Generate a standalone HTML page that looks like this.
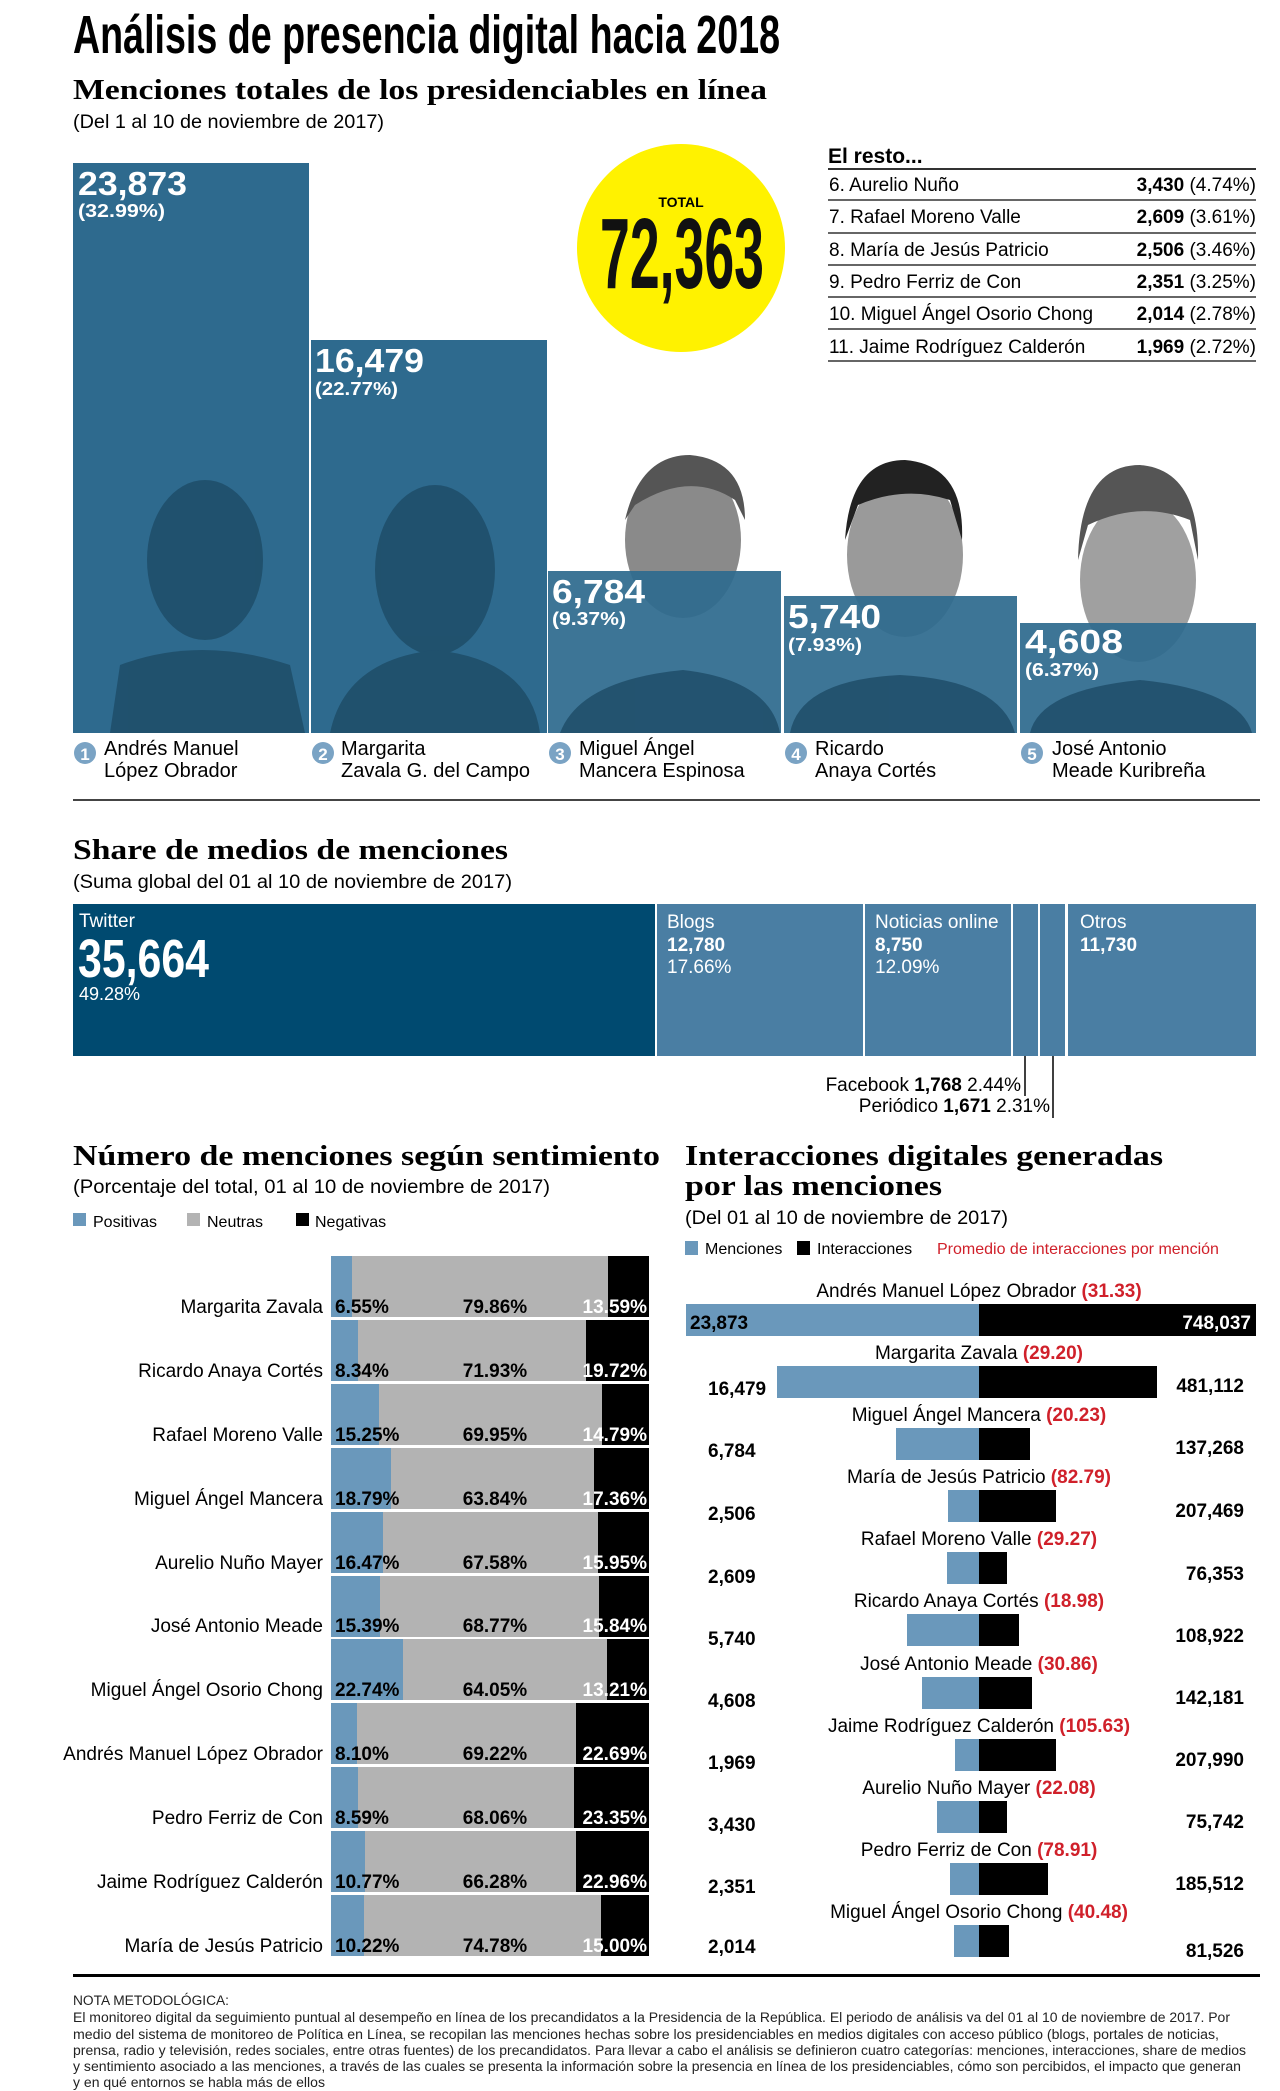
<!DOCTYPE html>
<html><head><meta charset="utf-8"><style>
html,body{margin:0;padding:0;background:#fff}
svg{display:block}
text{font-family:"Liberation Sans Narrow","Liberation Sans",sans-serif}
.s{font-family:"Liberation Serif",serif;font-weight:bold}
.b{font-weight:bold}
</style></head><body>
<svg width="1280" height="2091" viewBox="0 0 1280 2091" xmlns="http://www.w3.org/2000/svg">
<text x="73" y="53" font-size="54" class="b" textLength="707" lengthAdjust="spacingAndGlyphs">Análisis de presencia digital hacia 2018</text>
<text x="73" y="99" font-size="29" class="s" textLength="694" lengthAdjust="spacingAndGlyphs">Menciones totales de los presidenciables en línea</text>
<text x="73" y="128" font-size="19" textLength="311" lengthAdjust="spacingAndGlyphs">(Del 1 al 10 de noviembre de 2017)</text>

<g>
<ellipse cx="683" cy="540" rx="58" ry="78" fill="#8a8a8a"/>
<path d="M625 520 Q640 455 690 455 Q745 460 745 520 L735 500 Q690 470 635 505 Z" fill="#555"/>
<ellipse cx="905" cy="555" rx="58" ry="82" fill="#9a9a9a"/>
<path d="M845 540 Q850 460 905 460 Q965 465 962 540 L950 500 Q905 485 858 505 Z" fill="#222"/>
<ellipse cx="1138" cy="580" rx="58" ry="82" fill="#a0a0a0"/>
<path d="M1078 560 Q1080 465 1140 465 Q1200 470 1198 560 L1190 520 Q1140 500 1088 525 Z" fill="#555"/>
</g>
<g fill="#2e6a8e">
<rect x="73" y="163" width="236" height="570"/>
<rect x="311" y="340" width="236" height="393"/>
<rect x="548" y="571" width="233" height="162" opacity="0.93"/>
<rect x="784" y="596" width="233" height="137" opacity="0.93"/>
<rect x="1020" y="623" width="236" height="110" opacity="0.93"/>
</g>
<g fill="#1d4b66" opacity="0.8">
<ellipse cx="205" cy="560" rx="58" ry="80"/>
<path d="M110 733 L120 665 Q200 635 290 665 L305 733 Z"/>
<ellipse cx="435" cy="570" rx="60" ry="85"/>
<path d="M330 733 Q345 660 435 650 Q530 660 540 733 Z"/>
<path d="M560 733 Q580 680 683 670 Q770 680 780 733 Z"/>
<path d="M790 733 Q800 680 900 675 Q1000 680 1015 733 Z"/>
<path d="M1030 733 Q1040 690 1140 680 Q1240 690 1252 733 Z"/>
</g>
<g fill="#fff">
<text x="78" y="195" font-size="33" class="b" textLength="109" lengthAdjust="spacingAndGlyphs">23,873</text>
<text x="78" y="217" font-size="18" class="b" textLength="87" lengthAdjust="spacingAndGlyphs">(32.99%)</text>
<text x="315" y="372" font-size="33" class="b" textLength="109" lengthAdjust="spacingAndGlyphs">16,479</text>
<text x="315" y="395" font-size="18" class="b" textLength="83" lengthAdjust="spacingAndGlyphs">(22.77%)</text>
<text x="552" y="603" font-size="33" class="b" textLength="93" lengthAdjust="spacingAndGlyphs">6,784</text>
<text x="552" y="625" font-size="18" class="b" textLength="74" lengthAdjust="spacingAndGlyphs">(9.37%)</text>
<text x="788" y="628" font-size="33" class="b" textLength="93" lengthAdjust="spacingAndGlyphs">5,740</text>
<text x="788" y="651" font-size="18" class="b" textLength="74" lengthAdjust="spacingAndGlyphs">(7.93%)</text>
<text x="1025" y="653" font-size="33" class="b" textLength="98" lengthAdjust="spacingAndGlyphs">4,608</text>
<text x="1025" y="676" font-size="18" class="b" textLength="74" lengthAdjust="spacingAndGlyphs">(6.37%)</text>
</g>
<g font-size="20">
<circle cx="85" cy="753" r="11" fill="#7aa3c4"/><text x="85" y="760" fill="#fff" font-size="17" class="b" text-anchor="middle">1</text>
<text x="104" y="755">Andrés Manuel</text><text x="104" y="777">López Obrador</text>
<circle cx="323" cy="753" r="11" fill="#7aa3c4"/><text x="323" y="760" fill="#fff" font-size="17" class="b" text-anchor="middle">2</text>
<text x="341" y="755">Margarita</text><text x="341" y="777">Zavala G. del Campo</text>
<circle cx="560" cy="753" r="11" fill="#7aa3c4"/><text x="560" y="760" fill="#fff" font-size="17" class="b" text-anchor="middle">3</text>
<text x="579" y="755">Miguel Ángel</text><text x="579" y="777">Mancera Espinosa</text>
<circle cx="796" cy="753" r="11" fill="#7aa3c4"/><text x="796" y="760" fill="#fff" font-size="17" class="b" text-anchor="middle">4</text>
<text x="815" y="755">Ricardo</text><text x="815" y="777">Anaya Cortés</text>
<circle cx="1032" cy="753" r="11" fill="#7aa3c4"/><text x="1032" y="760" fill="#fff" font-size="17" class="b" text-anchor="middle">5</text>
<text x="1052" y="755">José Antonio</text><text x="1052" y="777">Meade Kuribreña</text>
</g>
<circle cx="681" cy="248" r="104" fill="#fff200"/>
<text x="681" y="207" font-size="14" class="b" text-anchor="middle">TOTAL</text>
<text x="600" y="288" font-size="100" class="b" textLength="164" lengthAdjust="spacingAndGlyphs" fill="#111">72,363</text>
<text x="828" y="163" font-size="21" class="b">El resto...</text>
<g stroke="#333" stroke-width="1.5">
<line x1="828" y1="169" x2="1256" y2="169" stroke-width="2"/>
<line x1="828" y1="200" x2="1256" y2="200"/><line x1="828" y1="233" x2="1256" y2="233"/>
<line x1="828" y1="265" x2="1256" y2="265"/><line x1="828" y1="297" x2="1256" y2="297"/>
<line x1="828" y1="329" x2="1256" y2="329"/><line x1="828" y1="361" x2="1256" y2="361"/>
</g>
<g font-size="19">
<text x="829" y="191">6. Aurelio Nuño</text><text x="1256" y="191" text-anchor="end"><tspan class="b">3,430</tspan> (4.74%)</text>
<text x="829" y="223">7. Rafael Moreno Valle</text><text x="1256" y="223" text-anchor="end"><tspan class="b">2,609</tspan> (3.61%)</text>
<text x="829" y="256">8. María de Jesús Patricio</text><text x="1256" y="256" text-anchor="end"><tspan class="b">2,506</tspan> (3.46%)</text>
<text x="829" y="288">9. Pedro Ferriz de Con</text><text x="1256" y="288" text-anchor="end"><tspan class="b">2,351</tspan> (3.25%)</text>
<text x="829" y="320">10. Miguel Ángel Osorio Chong</text><text x="1256" y="320" text-anchor="end"><tspan class="b">2,014</tspan> (2.78%)</text>
<text x="829" y="353">11. Jaime Rodríguez Calderón</text><text x="1256" y="353" text-anchor="end"><tspan class="b">1,969</tspan> (2.72%)</text>
</g>
<line x1="73" y1="800" x2="1260" y2="800" stroke="#444" stroke-width="2"/>

<text x="73" y="859" font-size="28" class="s" textLength="435" lengthAdjust="spacingAndGlyphs">Share de medios de menciones</text>
<text x="73" y="888" font-size="19" textLength="439" lengthAdjust="spacingAndGlyphs">(Suma global del 01 al 10 de noviembre de 2017)</text>
<rect x="73" y="904" width="582" height="152" fill="#004a70"/>
<g fill="#4a7ea3">
<rect x="657" y="904" width="206" height="152"/>
<rect x="865" y="904" width="146" height="152"/>
<rect x="1013" y="904" width="25" height="152"/>
<rect x="1040" y="904" width="25" height="152"/>
<rect x="1068" y="904" width="188" height="152"/>
</g>
<g fill="#fff">
<text x="79" y="927" font-size="19">Twitter</text>
<text x="78" y="977" font-size="54" class="b" textLength="131" lengthAdjust="spacingAndGlyphs">35,664</text>
<text x="79" y="1000" font-size="18">49.28%</text>
<text x="667" y="928" font-size="19">Blogs</text>
<text x="667" y="951" font-size="19" class="b">12,780</text>
<text x="667" y="973" font-size="19">17.66%</text>
<text x="875" y="928" font-size="19">Noticias online</text>
<text x="875" y="951" font-size="19" class="b">8,750</text>
<text x="875" y="973" font-size="19">12.09%</text>
<text x="1080" y="928" font-size="19">Otros</text>
<text x="1080" y="951" font-size="19" class="b">11,730</text>
</g>
<g stroke="#000" stroke-width="1.5"><line x1="1025" y1="1056" x2="1025" y2="1096"/><line x1="1053" y1="1056" x2="1053" y2="1118"/></g>
<text x="1021" y="1091" font-size="19" text-anchor="end">Facebook <tspan class="b">1,768</tspan>  2.44%</text>
<text x="1050" y="1112" font-size="19" text-anchor="end">Periódico <tspan class="b">1,671</tspan> 2.31%</text>

<text x="73" y="1165" font-size="28" class="s" textLength="587" lengthAdjust="spacingAndGlyphs">Número de menciones según sentimiento</text>
<text x="73" y="1193" font-size="19" textLength="477" lengthAdjust="spacingAndGlyphs">(Porcentaje del total, 01 al 10 de noviembre de 2017)</text>
<g font-size="16">
<rect x="73" y="1213" width="13" height="13" fill="#6a98bb"/><text x="93" y="1227">Positivas</text>
<rect x="187" y="1213" width="13" height="13" fill="#b3b3b3"/><text x="207" y="1227">Neutras</text>
<rect x="296" y="1213" width="13" height="13" fill="#000"/><text x="315" y="1227">Negativas</text>
</g>
<g font-size="19">
<g><rect x="331" y="1256" width="318" height="61" fill="#b3b3b3"/><rect x="331" y="1256" width="21" height="61" fill="#6a98bb"/><rect x="608" y="1256" width="41" height="61"/>
<text x="323" y="1313" text-anchor="end">Margarita Zavala</text><text x="335" y="1313" class="b">6.55%</text><text x="495" y="1313" class="b" text-anchor="middle">79.86%</text><text x="647" y="1313" class="b" text-anchor="end" fill="#fff">13.59%</text></g>
<g><rect x="331" y="1320" width="318" height="61" fill="#b3b3b3"/><rect x="331" y="1320" width="27" height="61" fill="#6a98bb"/><rect x="586" y="1320" width="63" height="61"/>
<text x="323" y="1377" text-anchor="end">Ricardo Anaya Cortés</text><text x="335" y="1377" class="b">8.34%</text><text x="495" y="1377" class="b" text-anchor="middle">71.93%</text><text x="647" y="1377" class="b" text-anchor="end" fill="#fff">19.72%</text></g>
<g><rect x="331" y="1384" width="318" height="61" fill="#b3b3b3"/><rect x="331" y="1384" width="48" height="61" fill="#6a98bb"/><rect x="602" y="1384" width="47" height="61"/>
<text x="323" y="1441" text-anchor="end">Rafael Moreno Valle</text><text x="335" y="1441" class="b">15.25%</text><text x="495" y="1441" class="b" text-anchor="middle">69.95%</text><text x="647" y="1441" class="b" text-anchor="end" fill="#fff">14.79%</text></g>
<g><rect x="331" y="1448" width="318" height="61" fill="#b3b3b3"/><rect x="331" y="1448" width="60" height="61" fill="#6a98bb"/><rect x="594" y="1448" width="55" height="61"/>
<text x="323" y="1505" text-anchor="end">Miguel Ángel Mancera</text><text x="335" y="1505" class="b">18.79%</text><text x="495" y="1505" class="b" text-anchor="middle">63.84%</text><text x="647" y="1505" class="b" text-anchor="end" fill="#fff">17.36%</text></g>
<g><rect x="331" y="1512" width="318" height="61" fill="#b3b3b3"/><rect x="331" y="1512" width="52" height="61" fill="#6a98bb"/><rect x="598" y="1512" width="51" height="61"/>
<text x="323" y="1569" text-anchor="end">Aurelio Nuño Mayer</text><text x="335" y="1569" class="b">16.47%</text><text x="495" y="1569" class="b" text-anchor="middle">67.58%</text><text x="647" y="1569" class="b" text-anchor="end" fill="#fff">15.95%</text></g>
<g><rect x="331" y="1576" width="318" height="61" fill="#b3b3b3"/><rect x="331" y="1576" width="49" height="61" fill="#6a98bb"/><rect x="599" y="1576" width="50" height="61"/>
<text x="323" y="1632" text-anchor="end">José Antonio Meade</text><text x="335" y="1632" class="b">15.39%</text><text x="495" y="1632" class="b" text-anchor="middle">68.77%</text><text x="647" y="1632" class="b" text-anchor="end" fill="#fff">15.84%</text></g>
<g><rect x="331" y="1639" width="318" height="61" fill="#b3b3b3"/><rect x="331" y="1639" width="72" height="61" fill="#6a98bb"/><rect x="607" y="1639" width="42" height="61"/>
<text x="323" y="1696" text-anchor="end">Miguel Ángel Osorio Chong</text><text x="335" y="1696" class="b">22.74%</text><text x="495" y="1696" class="b" text-anchor="middle">64.05%</text><text x="647" y="1696" class="b" text-anchor="end" fill="#fff">13.21%</text></g>
<g><rect x="331" y="1703" width="318" height="61" fill="#b3b3b3"/><rect x="331" y="1703" width="26" height="61" fill="#6a98bb"/><rect x="576" y="1703" width="73" height="61"/>
<text x="323" y="1760" text-anchor="end">Andrés Manuel López Obrador</text><text x="335" y="1760" class="b">8.10%</text><text x="495" y="1760" class="b" text-anchor="middle">69.22%</text><text x="647" y="1760" class="b" text-anchor="end" fill="#fff">22.69%</text></g>
<g><rect x="331" y="1767" width="318" height="61" fill="#b3b3b3"/><rect x="331" y="1767" width="27" height="61" fill="#6a98bb"/><rect x="574" y="1767" width="75" height="61"/>
<text x="323" y="1824" text-anchor="end">Pedro Ferriz de Con</text><text x="335" y="1824" class="b">8.59%</text><text x="495" y="1824" class="b" text-anchor="middle">68.06%</text><text x="647" y="1824" class="b" text-anchor="end" fill="#fff">23.35%</text></g>
<g><rect x="331" y="1831" width="318" height="61" fill="#b3b3b3"/><rect x="331" y="1831" width="34" height="61" fill="#6a98bb"/><rect x="576" y="1831" width="73" height="61"/>
<text x="323" y="1888" text-anchor="end">Jaime Rodríguez Calderón</text><text x="335" y="1888" class="b">10.77%</text><text x="495" y="1888" class="b" text-anchor="middle">66.28%</text><text x="647" y="1888" class="b" text-anchor="end" fill="#fff">22.96%</text></g>
<g><rect x="331" y="1895" width="318" height="61" fill="#b3b3b3"/><rect x="331" y="1895" width="33" height="61" fill="#6a98bb"/><rect x="601" y="1895" width="48" height="61"/>
<text x="323" y="1952" text-anchor="end">María de Jesús Patricio</text><text x="335" y="1952" class="b">10.22%</text><text x="495" y="1952" class="b" text-anchor="middle">74.78%</text><text x="647" y="1952" class="b" text-anchor="end" fill="#fff">15.00%</text></g>
</g>

<text x="685" y="1165" font-size="28" class="s" textLength="478" lengthAdjust="spacingAndGlyphs">Interacciones digitales generadas</text>
<text x="685" y="1195" font-size="28" class="s" textLength="257" lengthAdjust="spacingAndGlyphs">por las menciones</text>
<text x="685" y="1224" font-size="19" textLength="323" lengthAdjust="spacingAndGlyphs">(Del 01 al 10 de noviembre de 2017)</text>
<g font-size="16">
<rect x="685" y="1241" width="13" height="14" fill="#6a98bb"/><text x="705" y="1254">Menciones</text>
<rect x="797" y="1241" width="13" height="14" fill="#000"/><text x="817" y="1254">Interacciones</text>
<text x="937" y="1254" fill="#d0202a">Promedio de interacciones por mención</text>
</g>
<g font-size="19">
<text x="979" y="1297" text-anchor="middle">Andrés Manuel López Obrador <tspan fill="#d0202a" class="b">(31.33)</tspan></text>
<rect x="686" y="1304" width="293" height="32" fill="#6a98bb"/><rect x="979" y="1304" width="277" height="32" fill="#000"/>
<text x="690" y="1329" class="b">23,873</text><text x="1251" y="1329" class="b" fill="#fff" text-anchor="end">748,037</text>

<text x="979" y="1359" text-anchor="middle">Margarita Zavala <tspan fill="#d0202a" class="b">(29.20)</tspan></text>
<rect x="777" y="1366" width="202" height="32" fill="#6a98bb"/><rect x="979" y="1366" width="178" height="32" fill="#000"/>
<text x="708" y="1395" class="b">16,479</text><text x="1244" y="1392" class="b" text-anchor="end">481,112</text>

<text x="979" y="1421" text-anchor="middle">Miguel Ángel Mancera <tspan fill="#d0202a" class="b">(20.23)</tspan></text>
<rect x="896" y="1428" width="83" height="32" fill="#6a98bb"/><rect x="979" y="1428" width="51" height="32" fill="#000"/>
<text x="708" y="1457" class="b">6,784</text><text x="1244" y="1454" class="b" text-anchor="end">137,268</text>

<text x="979" y="1483" text-anchor="middle">María de Jesús Patricio <tspan fill="#d0202a" class="b">(82.79)</tspan></text>
<rect x="948" y="1490" width="31" height="32" fill="#6a98bb"/><rect x="979" y="1490" width="77" height="32" fill="#000"/>
<text x="708" y="1520" class="b">2,506</text><text x="1244" y="1517" class="b" text-anchor="end">207,469</text>

<text x="979" y="1545" text-anchor="middle">Rafael Moreno Valle <tspan fill="#d0202a" class="b">(29.27)</tspan></text>
<rect x="947" y="1552" width="32" height="32" fill="#6a98bb"/><rect x="979" y="1552" width="28" height="32" fill="#000"/>
<text x="708" y="1583" class="b">2,609</text><text x="1244" y="1580" class="b" text-anchor="end">76,353</text>

<text x="979" y="1607" text-anchor="middle">Ricardo Anaya Cortés <tspan fill="#d0202a" class="b">(18.98)</tspan></text>
<rect x="907" y="1614" width="72" height="32" fill="#6a98bb"/><rect x="979" y="1614" width="40" height="32" fill="#000"/>
<text x="708" y="1645" class="b">5,740</text><text x="1244" y="1642" class="b" text-anchor="end">108,922</text>

<text x="979" y="1670" text-anchor="middle">José Antonio Meade <tspan fill="#d0202a" class="b">(30.86)</tspan></text>
<rect x="922" y="1677" width="57" height="32" fill="#6a98bb"/><rect x="979" y="1677" width="53" height="32" fill="#000"/>
<text x="708" y="1707" class="b">4,608</text><text x="1244" y="1704" class="b" text-anchor="end">142,181</text>

<text x="979" y="1732" text-anchor="middle">Jaime Rodríguez Calderón <tspan fill="#d0202a" class="b">(105.63)</tspan></text>
<rect x="955" y="1739" width="24" height="32" fill="#6a98bb"/><rect x="979" y="1739" width="77" height="32" fill="#000"/>
<text x="708" y="1769" class="b">1,969</text><text x="1244" y="1766" class="b" text-anchor="end">207,990</text>

<text x="979" y="1794" text-anchor="middle">Aurelio Nuño Mayer <tspan fill="#d0202a" class="b">(22.08)</tspan></text>
<rect x="937" y="1801" width="42" height="32" fill="#6a98bb"/><rect x="979" y="1801" width="28" height="32" fill="#000"/>
<text x="708" y="1831" class="b">3,430</text><text x="1244" y="1828" class="b" text-anchor="end">75,742</text>

<text x="979" y="1856" text-anchor="middle">Pedro Ferriz de Con <tspan fill="#d0202a" class="b">(78.91)</tspan></text>
<rect x="950" y="1863" width="29" height="32" fill="#6a98bb"/><rect x="979" y="1863" width="69" height="32" fill="#000"/>
<text x="708" y="1893" class="b">2,351</text><text x="1244" y="1890" class="b" text-anchor="end">185,512</text>

<text x="979" y="1918" text-anchor="middle">Miguel Ángel Osorio Chong <tspan fill="#d0202a" class="b">(40.48)</tspan></text>
<rect x="954" y="1925" width="25" height="32" fill="#6a98bb"/><rect x="979" y="1925" width="30" height="32" fill="#000"/>
<text x="708" y="1953" class="b">2,014</text><text x="1244" y="1957" class="b" text-anchor="end">81,526</text>
</g>

<rect x="73" y="1974" width="1187" height="3" fill="#000"/>
<g font-size="13.5" fill="#222">
<text x="73" y="2005" textLength="156" lengthAdjust="spacingAndGlyphs">NOTA METODOLÓGICA:</text>
<text x="73" y="2022" textLength="1157" lengthAdjust="spacingAndGlyphs">El monitoreo digital da seguimiento puntual al desempeño en línea de los precandidatos a la Presidencia de la República. El periodo de análisis va del 01 al 10 de noviembre de 2017. Por</text>
<text x="73" y="2039" textLength="1146" lengthAdjust="spacingAndGlyphs">medio del sistema de monitoreo de Política en Línea, se recopilan las menciones  hechas sobre los presidenciables en medios digitales con acceso público (blogs, portales de noticias,</text>
<text x="73" y="2055" textLength="1173" lengthAdjust="spacingAndGlyphs">prensa, radio y televisión, redes sociales, entre otras fuentes) de los precandidatos. Para llevar a cabo el análisis se definieron cuatro categorías: menciones, interacciones, share de medios</text>
<text x="73" y="2071" textLength="1168" lengthAdjust="spacingAndGlyphs">y sentimiento asociado a las menciones, a través de las cuales se presenta la información sobre la presencia en línea de los presidenciables, cómo son percibidos, el impacto que generan</text>
<text x="73" y="2087" textLength="252" lengthAdjust="spacingAndGlyphs">y en qué entornos se habla más de ellos</text>
</g>
</svg>
</body></html>
